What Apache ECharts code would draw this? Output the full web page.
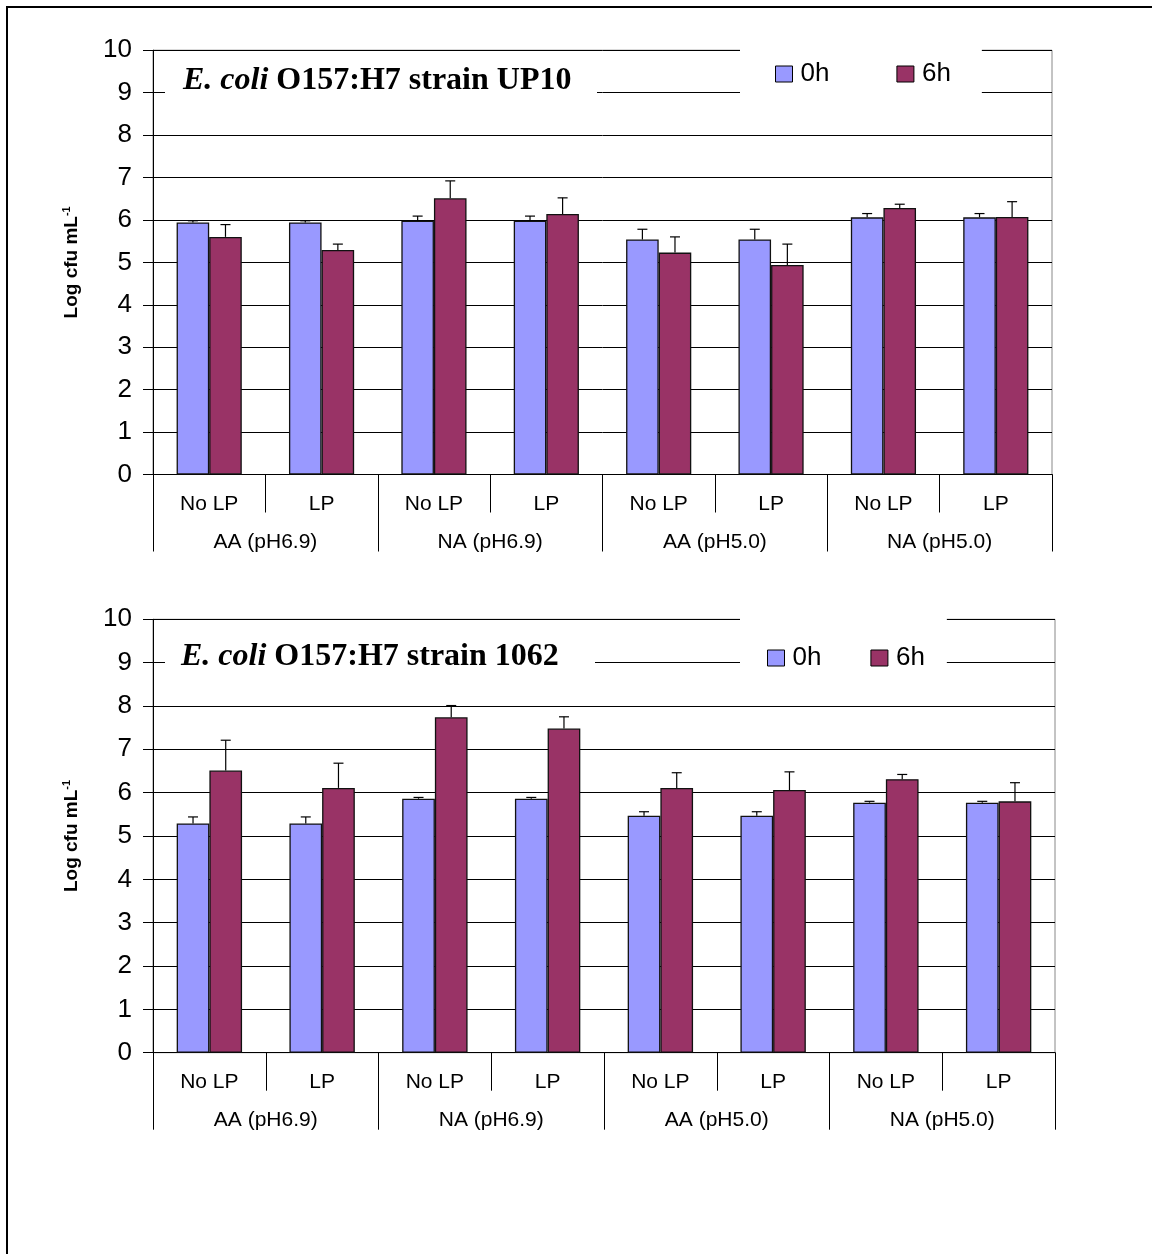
<!DOCTYPE html>
<html>
<head>
<meta charset="utf-8">
<script src="https://cdn.jsdelivr.net/npm/echarts@6/dist/echarts.min.js"></script>
<style>
html,body{margin:0;padding:0;background:#fff;}
#chart{width:1152px;height:1254px;}
</style>
</head>
<body>
<div id="chart"></div>
<script>
// ---- data ----
const subCategories = ['No LP', 'LP', 'No LP', 'LP', 'No LP', 'LP', 'No LP', 'LP'];
const groupCategories = ['AA (pH6.9)', 'NA (pH6.9)', 'AA (pH5.0)', 'NA (pH5.0)'];
const yTicks = [0, 1, 2, 3, 4, 5, 6, 7, 8, 9, 10];
const seriesNames = ['0h', '6h'];

const up10_0h      = [5.94, 5.94, 5.98, 5.98, 5.54, 5.54, 6.06, 6.06];
const up10_0h_err  = [0.04, 0.04, 0.11, 0.11, 0.24, 0.24, 0.09, 0.09];
const up10_6h      = [5.60, 5.29, 6.51, 6.14, 5.23, 4.94, 6.28, 6.07];
const up10_6h_err  = [0.29, 0.14, 0.41, 0.38, 0.37, 0.49, 0.09, 0.36];

const s1062_0h     = [5.29, 5.29, 5.86, 5.86, 5.47, 5.47, 5.77, 5.77];
const s1062_0h_err = [0.15, 0.15, 0.03, 0.03, 0.09, 0.09, 0.03, 0.03];
const s1062_6h     = [6.51, 6.11, 7.74, 7.48, 6.11, 6.06, 6.31, 5.80];
const s1062_6h_err = [0.70, 0.57, 0.27, 0.27, 0.35, 0.42, 0.11, 0.43];

const titles = ['strain UP10', 'strain 1062'];

// ---- styling ----
const SANS = '"Liberation Sans", Arial, Helvetica, sans-serif';
const SERIF = '"Liberation Serif", "Times New Roman", serif';
const C0 = '#9999FF';
const C6 = '#993366';
const BAR_W = 0.29; // fraction of category band

const chart = echarts.init(document.getElementById('chart'), null, {renderer: 'canvas'});

function yAxisDef(gridIndex) {
  return {
    type: 'value', gridIndex: gridIndex,
    min: yTicks[0], max: yTicks[yTicks.length - 1], interval: 1,
    axisLine: {show: true, lineStyle: {color: '#000', width: 1}},
    axisTick: {show: true, inside: false, length: 10, lineStyle: {color: '#000'}},
    axisLabel: {color: '#000', fontSize: 26, fontFamily: SANS, margin: 21},
    splitLine: {show: true, lineStyle: {color: '#000', width: 1}},
    name: '{a|Log cfu mL}{s|-1}',
    nameLocation: 'middle', nameGap: 70, nameRotate: 90,
    nameTextStyle: {
      color: '#000', fontFamily: SANS, fontWeight: 'bold', fontSize: 19,
      rich: {
        a: {fontFamily: SANS, fontWeight: 'bold', fontSize: 19, color: '#000', lineHeight: 22},
        s: {fontFamily: SANS, fontWeight: 'bold', fontSize: 11, color: '#000', verticalAlign: 'top', lineHeight: 22, padding: [0, 0, 12, 0]}
      }
    }
  };
}

function xAxesDef(gridIndex) {
  return [
    {
      type: 'category', gridIndex: gridIndex, position: 'bottom', offset: 0,
      data: subCategories,
      axisLine: {show: true, lineStyle: {color: '#000', width: 1}},
      axisTick: {show: true, alignWithLabel: false, interval: 0, length: 38, lineStyle: {color: '#000'}},
      axisLabel: {interval: 0, color: '#000', fontSize: 21, fontFamily: SANS, margin: 19},
      splitLine: {show: false}
    },
    {
      type: 'category', gridIndex: gridIndex, position: 'bottom', offset: 0,
      data: groupCategories,
      axisLine: {show: false},
      axisTick: {show: true, alignWithLabel: false, interval: 0, length: 77, lineStyle: {color: '#000'}},
      axisLabel: {interval: 0, color: '#000', fontSize: 21, fontFamily: SANS, margin: 57},
      splitLine: {show: false}
    }
  ];
}

function errorSeries(xi, yi, vals, errs, side) {
  return {
    type: 'custom', name: 'err', xAxisIndex: xi, yAxisIndex: yi, z: 5,
    silent: true, legendHoverLink: false,
    data: vals.map((v, i) => [i, v, errs[i]]),
    renderItem: function (params, api) {
      const i = api.value(0), v = api.value(1), e = api.value(2);
      const band = api.size([1, 0])[0];
      const p0 = api.coord([i, v]);
      const p1 = api.coord([i, v + e]);
      const x = p0[0] + side * band * BAR_W / 2;
      return {
        type: 'group',
        children: [
          {type: 'line', shape: {x1: x, y1: p0[1], x2: x, y2: p1[1]}, style: {stroke: '#000', lineWidth: 1.2}},
          {type: 'line', shape: {x1: x - 5, y1: p1[1], x2: x + 5, y2: p1[1]}, style: {stroke: '#000', lineWidth: 1.2}}
        ]
      };
    }
  };
}

function barSeries(name, xi, yi, vals, color) {
  return {
    type: 'bar', name: name, xAxisIndex: xi, yAxisIndex: yi,
    data: vals, barWidth: (BAR_W * 100) + '%', barGap: '0%',
    itemStyle: {color: color, borderColor: '#111', borderWidth: 1.3},
    emphasis: {disabled: true}, z: 2
  };
}

function titleGraphic(x, y, w, h, label, textX, textY) {
  return {
    type: 'group', z: 20,
    children: [
      {type: 'rect', shape: {x: x, y: y, width: w, height: h}, style: {fill: '#fff'}, z: 20},
      {type: 'text', x: textX, y: textY, z: 21, style: {
        text: '{i|E. coli}{b|\u00A0O157:H7 ' + label + '}',
        verticalAlign: 'middle',
        rich: {
          i: {fontFamily: SERIF, fontStyle: 'italic', fontWeight: 'bold', fontSize: 32, fill: '#000'},
          b: {fontFamily: SERIF, fontWeight: 'bold', fontSize: 32, fill: '#000'}
        }
      }}
    ]
  };
}

function legendDef(left, top, gap, padding) {
  return {
    show: true, data: seriesNames, left: left, top: top, orient: 'horizontal',
    icon: 'rect', itemWidth: 17, itemHeight: 16, itemGap: gap,
    backgroundColor: '#fff', padding: padding, selectedMode: false, z: 15,
    itemStyle: {borderColor: '#000', borderWidth: 1},
    textStyle: {color: '#000', fontSize: 26, fontFamily: SANS, padding: [0, 0, 0, 3]}
  };
}

const xa = xAxesDef(0).concat(xAxesDef(1));

const option = {
  backgroundColor: '#fff',
  animation: false,
  grid: [
    {left: 153, top: 50.2, width: 899, height: 424.3, show: true, borderColor: '#888', borderWidth: 1, backgroundColor: 'transparent'},
    {left: 153, top: 619.3, width: 902, height: 433.4, show: true, borderColor: '#888', borderWidth: 1, backgroundColor: 'transparent'}
  ],
  legend: [
    legendDef(740, 44, 67, [17, 31, 13, 35]),
    legendDef(740, 614, 49, [31, 22, 13, 27])
  ],
  xAxis: xa,
  yAxis: [yAxisDef(0), yAxisDef(1)],
  series: [
    barSeries(seriesNames[0], 0, 0, up10_0h, C0),
    barSeries(seriesNames[1], 0, 0, up10_6h, C6),
    errorSeries(0, 0, up10_0h, up10_0h_err, -1),
    errorSeries(0, 0, up10_6h, up10_6h_err, 1),
    barSeries(seriesNames[0], 2, 1, s1062_0h, C0),
    barSeries(seriesNames[1], 2, 1, s1062_6h, C6),
    errorSeries(2, 1, s1062_0h, s1062_0h_err, -1),
    errorSeries(2, 1, s1062_6h, s1062_6h_err, 1)
  ],
  graphic: [
    {type: 'rect', z: 30, shape: {x: 7, y: 7, width: 1170, height: 1270}, style: {fill: 'none', stroke: '#000', lineWidth: 2}},
    titleGraphic(165, 58, 432, 52, titles[0], 183, 81),
    titleGraphic(165, 628, 430, 52, titles[1], 181, 657)
  ]
};

chart.setOption(option);
</script>
</body>
</html>
